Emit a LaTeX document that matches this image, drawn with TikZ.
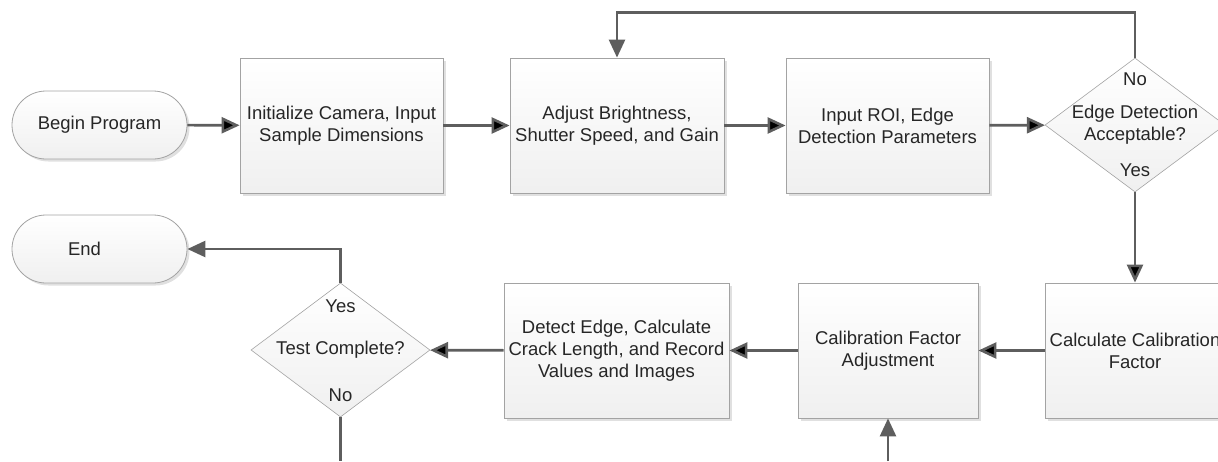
\documentclass[tikz,border=0pt]{standalone}
\usepackage{fontspec}
\setmainfont{Liberation Sans}
\usetikzlibrary{shapes.geometric,shapes.misc,arrows.meta,shadows,calc}
\definecolor{flowline}{HTML}{5E5E5E}
\definecolor{flowedge}{HTML}{A3A3A3}
\definecolor{flowtext}{HTML}{262626}

\begin{document}
\begin{tikzpicture}[x=1pt, y=-1pt,
  font=\fontsize{18.5}{22}\selectfont, text=flowtext,
  flowbox/.style={draw=flowedge, line width=0.8pt, top color=white, bottom color=black!6, align=center, inner sep=3pt},
  softshadow/.style={drop shadow={shadow xshift=2.5pt, shadow yshift=-2.5pt, fill=black, opacity=0.12}},
  term/.style={flowbox, softshadow, rounded rectangle, minimum width=181pt, minimum height=68pt},
  proc/.style={flowbox, softshadow, rectangle, minimum height=135pt},
  dec/.style={flowbox, diamond, aspect=1.34, inner sep=-5pt, minimum width=180pt, minimum height=134pt, line width=0.6pt},
  lbl/.style={inner sep=0pt},
  arr/.style={draw=flowline, line width=2.6pt, -{Triangle[length=18pt, width=16pt]}},
  wire/.style={draw=flowline, line width=2.6pt}]
\useasboundingbox (0,0) rectangle (1218,461);

% top row
\node[term] (Begin) at (99.5,125) {Begin Program};
\node[proc, minimum width=203pt] (Init) at (341.5,125.5) {Initialize Camera, Input\\Sample Dimensions};
\node[proc, minimum width=214pt] (Adj) at (617,125.5) {Adjust Brightness,\\Shutter Speed, and Gain};
\node[proc, minimum width=203pt] (ROI) at (887.5,125.5) {Input ROI, Edge\\Detection Parameters};
\node[dec] (Dec) at (1135,125) {Edge Detection\\Acceptable?};
\node[lbl] (DecNo) at ($(Dec.north)+(0,22)$) {No};
\node[lbl] (DecYes) at ($(Dec.south)+(0,-22)$) {Yes};

% bottom row
\node[proc, minimum width=180pt] (Calc) at (1135,350.5) {Calculate Calibration\\Factor};
\node[proc, minimum width=180pt] (CalAdj) at (888,350.5) {Calibration Factor\\Adjustment};
\node[proc, minimum width=225pt] (Det) at (616.5,350.5) {Detect Edge, Calculate\\Crack Length, and Record\\Values and Images};
\node[dec, minimum width=179pt] (Test) at (340.5,350) {Test Complete?};
\node[lbl] (TestYes) at ($(Test.north)+(0,24)$) {Yes};
\node[lbl] (TestNo) at ($(Test.south)+(0,-22)$) {No};
\node[term] (End) at (99.5,249) {End\hspace*{30pt}};
\coordinate (TestOut) at (340.5,461);
\coordinate (CalIn) at (888,461);

\path[arr] (Begin) edge (Init);
\path[arr] (Init) edge (Adj);
\path[arr] (Adj) edge (ROI);
\path[arr] (ROI) edge (Dec);
\path[arr] (Dec) edge (Calc);
\path[arr] (Calc) edge (CalAdj);
\path[arr] (CalAdj) edge (Det);
\path[arr] (Det) edge (Test);
\draw[arr] (Dec.north) -- ++(0,-45) -| (Adj.north);
\draw[arr] (Test.north) |- (End.east);
\draw[wire] (Test.south) -- (TestOut);
\draw[arr] (CalIn) -- (CalAdj.south);
\end{tikzpicture}
\end{document}
